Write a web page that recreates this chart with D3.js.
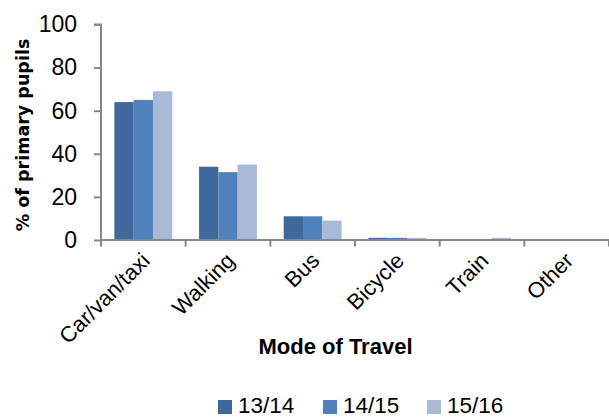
<!DOCTYPE html>
<html><head><meta charset="utf-8">
<script src="https://cdn.jsdelivr.net/npm/d3@7"></script>
<style>body{margin:0;background:#fff}svg{display:block}</style>
</head><body>
<script>
const categories = ["Car/van/taxi","Walking","Bus","Bicycle","Train","Other"];
const seriesNames = ["13/14","14/15","15/16"];
const values1314 = [64, 34, 11, 1, 0, 0];
const values1415 = [65, 31.5, 11, 1, 0, 0];
const values1516 = [69, 35, 9, 1, 1, 0];
const yTicks = [0, 20, 40, 60, 80, 100];
const colors = ["#3F689C", "#4F81BD", "#A9BAD9"];
const seriesValues = [values1314, values1415, values1516];

const W = 609, H = 418;
const svg = d3.select("body").append("svg").attr("width", W).attr("height", H);
const axisColor = "#878787";

const x0 = d3.scaleBand().domain(categories).range([101, 609]).padding(0);
const bw = x0.bandwidth();
const x1 = d3.scaleBand().domain(seriesNames).range([13.4, bw - 13.4]).padding(0);
const y = d3.scaleLinear().domain([0, 100]).range([240, 24.5]);

// bars
const g = svg.append("g");
seriesNames.forEach((s, si) => {
  g.selectAll(".b" + si).data(categories).enter().append("rect")
    .attr("x", c => x0(c) + x1(s))
    .attr("width", x1.bandwidth())
    .attr("y", (c, i) => y(seriesValues[si][i]))
    .attr("height", (c, i) => y(0) - y(seriesValues[si][i]))
    .attr("fill", colors[si]);
});

// y axis
const yAxis = svg.append("g").attr("transform", "translate(101,0)")
  .call(d3.axisLeft(y).tickValues(yTicks).tickSize(7).tickPadding(17).tickFormat(d3.format("d")));
yAxis.selectAll("path").attr("stroke", axisColor).attr("stroke-width", 2).attr("d", `M-7,${y(100)}H0V${y(0)}`);
yAxis.selectAll("line").attr("stroke", axisColor).attr("stroke-width", 2);
yAxis.selectAll("text").attr("font-family", "Liberation Sans, Arial, sans-serif").attr("font-size", 23).attr("fill", "#000");

// x axis
const xAxis = svg.append("g").attr("transform", `translate(0,${y(0)})`);
xAxis.append("line").attr("x1", 101).attr("x2", 609).attr("y1", 0).attr("y2", 0)
  .attr("stroke", axisColor).attr("stroke-width", 2);
const bounds = categories.map(c => x0(c)).concat([x0(categories[categories.length - 1]) + bw]);
xAxis.selectAll(".tk").data(bounds).enter().append("line")
  .attr("x1", d => d).attr("x2", d => d).attr("y1", 0).attr("y2", 6.5)
  .attr("stroke", axisColor).attr("stroke-width", 2);
xAxis.selectAll(".lbl").data(categories).enter().append("text")
  .attr("transform", c => `translate(${x0(c) + bw / 2 + 8},${262 - y(0)}) rotate(-45)`)
  .attr("text-anchor", "end")
  .attr("font-family", "Liberation Sans, Arial, sans-serif").attr("font-size", 22)
  .attr("fill", "#000")
  .text(c => c);

// axis titles
svg.append("text")
  .attr("transform", "translate(29,135) rotate(-90)")
  .attr("text-anchor", "middle")
  .attr("font-family", "DejaVu Sans, sans-serif").attr("font-weight", "bold").attr("font-size", 17.5)
  .attr("fill", "#000")
  .text("% of primary pupils");
svg.append("text")
  .attr("x", 335.5).attr("y", 354)
  .attr("text-anchor", "middle")
  .attr("font-family", "Liberation Sans, Arial, sans-serif").attr("font-weight", "bold").attr("font-size", 22)
  .attr("fill", "#000")
  .text("Mode of Travel");

// legend
const legX = [218, 323, 427];
const leg = svg.append("g");
seriesNames.forEach((s, i) => {
  leg.append("rect").attr("x", legX[i]).attr("y", 400).attr("width", 14).attr("height", 14).attr("fill", colors[i]);
  leg.append("text").attr("x", legX[i] + 20).attr("y", 413)
    .attr("font-family", "Liberation Sans, Arial, sans-serif").attr("font-size", 22.5).attr("fill", "#000")
    .text(s);
});
</script>
</body></html>
